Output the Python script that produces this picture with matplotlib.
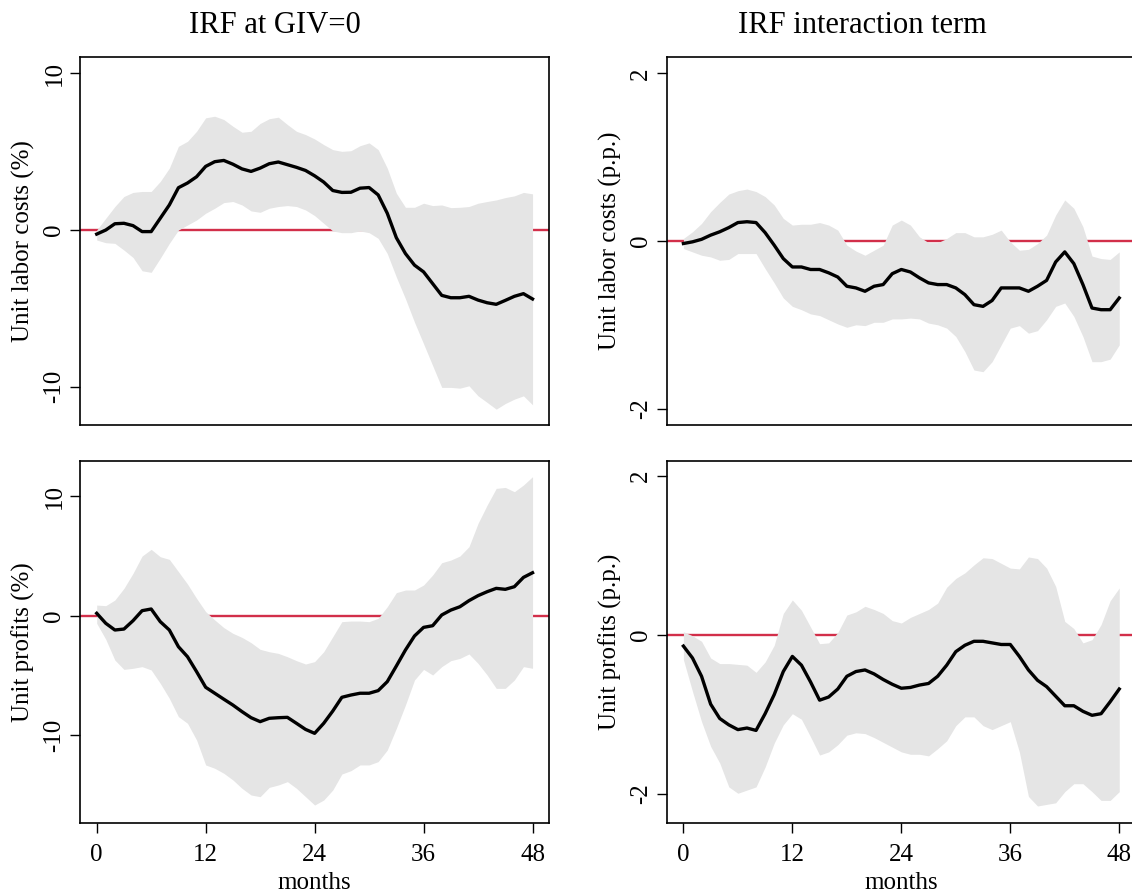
import numpy as np
import matplotlib
matplotlib.use("Agg")
import matplotlib.pyplot as plt

plt.rcParams["font.family"] = ["Liberation Serif", "DejaVu Serif"]

months = np.arange(49)
xticks = [0, 12, 24, 36, 48]

# Unit labor costs, IRF at GIV=0 (%)
ulc_irf = [-0.26, 0.0, 0.4, 0.43, 0.28, -0.1, -0.1, 0.75, 1.6, 2.7, 3.0, 3.4, 4.06, 4.36, 4.44, 4.2,
           3.9, 3.74, 3.95, 4.23, 4.34, 4.17, 4.0, 3.8, 3.46, 3.06, 2.52, 2.4, 2.41, 2.67, 2.71, 2.24,
           1.07, -0.49, -1.5, -2.24, -2.67, -3.42, -4.17, -4.32, -4.32, -4.23, -4.47, -4.64, -4.74,
           -4.49, -4.23, -4.06, -4.4]
ulc_hi = [0.0, 0.75, 1.5, 2.14, 2.4, 2.46, 2.46, 3.1, 3.95, 5.34, 5.66, 6.3, 7.16, 7.26, 7.05, 6.62,
          6.24, 6.3, 6.8, 7.1, 7.2, 6.73, 6.3, 6.09, 5.81, 5.45, 5.13, 5.02, 5.06, 5.38, 5.56, 5.13,
          3.95, 2.35, 1.45, 1.45, 1.71, 1.56, 1.6, 1.43, 1.45, 1.5, 1.71, 1.82, 1.92, 2.07, 2.18,
          2.4, 2.31]
ulc_lo = [-0.64, -0.81, -0.85, -1.28, -1.75, -2.6, -2.7, -1.8, -0.85, 0.0, 0.32, 0.64, 1.07, 1.39,
          1.75, 1.82, 1.6, 1.22, 1.13, 1.39, 1.5, 1.56, 1.5, 1.28, 0.92, 0.43, -0.06, -0.17, -0.17,
          -0.06, -0.17, -0.53, -1.5, -3.0, -4.38, -5.88, -7.26, -8.65, -10.04, -10.04, -10.09,
          -9.94, -10.58, -11.0, -11.43, -11.07, -10.79, -10.58, -11.15]

# Unit labor costs, interaction term (p.p.)
ulc_int = [-0.03, -0.01, 0.02, 0.07, 0.11, 0.16, 0.22, 0.23, 0.22, 0.1, -0.05, -0.21, -0.31, -0.31,
           -0.34, -0.34, -0.38, -0.43, -0.54, -0.56, -0.6, -0.54, -0.52, -0.39, -0.34, -0.37, -0.44,
           -0.5, -0.52, -0.52, -0.56, -0.64, -0.76, -0.78, -0.71, -0.56, -0.56, -0.56, -0.6, -0.54,
           -0.47, -0.25, -0.13, -0.27, -0.52, -0.8, -0.82, -0.82, -0.68]
ulc_int_hi = [0.03, 0.11, 0.21, 0.35, 0.46, 0.56, 0.6, 0.62, 0.59, 0.53, 0.43, 0.27, 0.19, 0.2, 0.2,
              0.22, 0.19, 0.13, -0.05, -0.12, -0.17, -0.11, -0.05, 0.19, 0.25, 0.19, 0.05, -0.02,
              -0.02, 0.03, 0.1, 0.1, 0.05, 0.05, 0.08, 0.13, -0.01, -0.11, -0.1, -0.03, 0.07, 0.31,
              0.49, 0.39, 0.17, -0.18, -0.21, -0.22, -0.13]
ulc_int_lo = [-0.09, -0.13, -0.17, -0.19, -0.23, -0.22, -0.15, -0.15, -0.15, -0.33, -0.5, -0.68,
              -0.78, -0.82, -0.87, -0.89, -0.94, -0.99, -1.03, -1.0, -1.01, -0.97, -0.97, -0.93,
              -0.93, -0.92, -0.93, -0.98, -1.0, -1.04, -1.14, -1.32, -1.54, -1.56, -1.44, -1.24,
              -1.04, -1.01, -1.1, -1.07, -0.94, -0.78, -0.74, -0.9, -1.14, -1.44, -1.44, -1.41, -1.24]

# Unit profits, IRF at GIV=0 (%)
up_irf = [0.2, -0.64, -1.2, -1.12, -0.42, 0.42, 0.56, -0.5, -1.2, -2.6, -3.44, -4.69, -6.0, -6.5,
          -7.0, -7.49, -8.04, -8.55, -8.88, -8.6, -8.55, -8.52, -9.02, -9.53, -9.86, -9.02, -7.99,
          -6.84, -6.65, -6.5, -6.5, -6.28, -5.53, -4.22, -2.88, -1.7, -0.98, -0.84, 0.06, 0.47,
          0.75, 1.26, 1.68, 2.01, 2.29, 2.21, 2.43, 3.21, 3.6]
up_hi = [0.89, 0.84, 1.31, 2.29, 3.55, 5.0, 5.56, 4.94, 4.72, 3.69, 2.65, 1.45, 0.34, -0.36, -1.0,
         -1.48, -1.82, -2.26, -2.82, -3.02, -3.16, -3.44, -3.77, -4.05, -3.85, -3.02, -1.76, -0.5,
         -0.45, -0.45, -0.5, -0.22, 0.75, 1.93, 2.15, 2.15, 2.57, 3.41, 4.44, 4.66, 5.0, 5.78,
         7.74, 9.27, 10.67, 10.75, 10.39, 10.95, 11.65]
up_lo = [-0.64, -1.98, -3.72, -4.5, -4.41, -4.27, -4.55, -5.67, -6.93, -8.46, -9.02, -10.42,
         -12.51, -12.79, -13.21, -13.77, -14.47, -15.03, -15.17, -14.39, -14.19, -13.91, -14.47,
         -15.17, -15.87, -15.45, -14.61, -13.27, -12.99, -12.51, -12.51, -12.23, -11.26, -9.44,
         -7.49, -5.39, -4.5, -4.97, -4.27, -3.77, -3.58, -3.21, -4.0, -4.97, -6.09, -6.09, -5.39,
         -4.27, -4.41]

# Unit profits, interaction term (p.p.)
up_int = [-0.14, -0.29, -0.52, -0.87, -1.05, -1.13, -1.19, -1.17, -1.2, -0.99, -0.75, -0.46, -0.27,
          -0.38, -0.59, -0.82, -0.78, -0.68, -0.52, -0.46, -0.44, -0.49, -0.56, -0.62, -0.67,
          -0.66, -0.63, -0.61, -0.52, -0.38, -0.21, -0.13, -0.08, -0.08, -0.1, -0.12, -0.12,
          -0.27, -0.44, -0.57, -0.65, -0.77, -0.89, -0.89, -0.96, -1.01, -0.99, -0.84, -0.68]
up_int_hi = [0.04, -0.01, -0.08, -0.29, -0.36, -0.36, -0.37, -0.38, -0.47, -0.34, -0.13, 0.27,
             0.44, 0.31, 0.1, -0.11, -0.1, 0.03, 0.25, 0.29, 0.36, 0.32, 0.27, 0.18, 0.15, 0.22,
             0.27, 0.32, 0.4, 0.6, 0.71, 0.78, 0.88, 0.97, 0.96, 0.9, 0.84, 0.83, 0.98, 0.96, 0.84,
             0.61, 0.17, 0.08, -0.1, -0.06, 0.13, 0.43, 0.59]
up_int_lo = [-0.31, -0.71, -1.09, -1.4, -1.61, -1.91, -1.99, -1.95, -1.91, -1.66, -1.36, -1.13,
             -0.99, -1.06, -1.28, -1.51, -1.47, -1.38, -1.26, -1.23, -1.24, -1.29, -1.35, -1.41,
             -1.47, -1.5, -1.5, -1.52, -1.43, -1.33, -1.14, -1.03, -1.03, -1.14, -1.19, -1.14,
             -1.09, -1.47, -2.03, -2.15, -2.13, -2.11, -1.97, -1.87, -1.87, -1.97, -2.08, -2.08,
             -1.97]

col_titles = ["IRF at GIV=0", "IRF interaction term"]
ylabels = ["Unit labor costs (%)", "Unit labor costs (p.p.)",
           "Unit profits (%)", "Unit profits (p.p.)"]

W, H = 1132, 892
fig = plt.figure(figsize=(W / 100, H / 100), dpi=100)


def px_axes(x0, y0, x1, y1):
    return fig.add_axes([x0 / W, 1 - y1 / H, (x1 - x0) / W, (y1 - y0) / H])


axes = [
    px_axes(80, 57, 548.7, 425),
    px_axes(666.7, 57, 1135.4, 425),
    px_axes(80, 460.7, 548.7, 822.7),
    px_axes(666.7, 460.7, 1135.4, 822.7),
]

panels = [
    (ulc_irf, ulc_lo, ulc_hi, (-12.44, 11.04), [-10, 0, 10]),
    (ulc_int, ulc_int_lo, ulc_int_hi, (-2.196, 2.196), [-2, 0, 2]),
    (up_irf, up_lo, up_hi, (-17.35, 12.99), [-10, 0, 10]),
    (up_int, up_int_lo, up_int_hi, (-2.36, 2.19), [-2, 0, 2]),
]

band_color = "#e5e5e5"
zero_color = "#d22f4a"

for i, (ax, (mid, lo, hi, ylim, yt)) in enumerate(zip(axes, panels)):
    ax.axhline(0, color=zero_color, lw=1.7, zorder=1)
    ax.fill_between(months, lo, hi, color=band_color, lw=0, zorder=2)
    ax.plot(months, mid, color="black", lw=2.4, zorder=3)
    ax.set_xlim(-1.84, 49.78)
    ax.set_ylim(*ylim)
    ax.set_yticks(yt)
    ax.set_yticklabels([str(v) for v in yt], rotation=90, va="center")
    for s in ax.spines.values():
        s.set_linewidth(1.2)
    ax.tick_params(axis="y", direction="out", length=7.5, width=1.0, labelsize=18, pad=3)
    ax.set_ylabel(ylabels[i], fontsize=18, labelpad=6)
    if i >= 2:
        ax.set_xticks(xticks)
        ax.tick_params(axis="x", direction="out", length=7.5, width=1.0, labelsize=18, pad=8)
        ax.set_xlabel("months", fontsize=18, labelpad=4.5)
    else:
        ax.set_xticks([])

fig.text(275 / W, 1 - 33 / H, col_titles[0], ha="center", va="baseline", fontsize=22)
fig.text(862 / W, 1 - 33 / H, col_titles[1], ha="center", va="baseline", fontsize=22)

fig.savefig("out.png", dpi=100)
